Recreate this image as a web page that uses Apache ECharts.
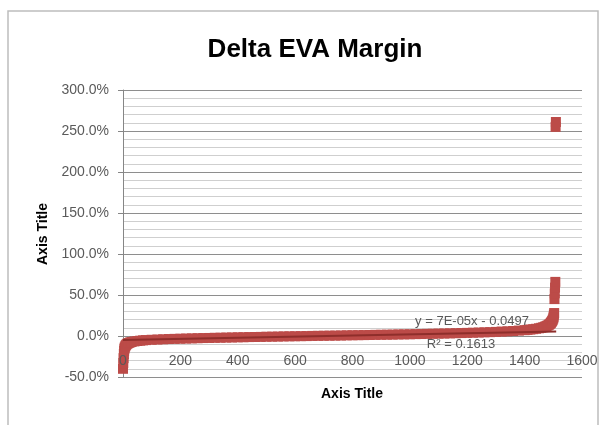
<!DOCTYPE html>
<html>
<head>
<meta charset="utf-8">
<script src="https://cdn.jsdelivr.net/npm/echarts@6/dist/echarts.min.js"></script>
<style>
html,body{margin:0;padding:0;background:#fff;}
#c{width:608px;height:425px;}
</style>
</head>
<body>
<div id="c"></div>
<script>
// ---- data ----
const chartTitle = 'Delta EVA Margin';
const xAxisTitle = 'Axis Title';
const yAxisTitle = 'Axis Title';
const trendEquation = 'y = 7E-05x - 0.0497';
const trendR2 = 'R² = 0.1613';

const pointX = [0,1,2,3,4,5,6,8,10,13,16,20,25,30,40,50,60,70,80,100,120,140,160,180,
  200,220,240,260,280,300,320,340,360,380,400,420,440,460,480,500,520,540,560,580,
  600,620,640,660,680,700,720,740,760,780,800,820,840,860,880,900,920,940,960,980,
  1000,1020,1040,1060,1080,1100,1120,1140,1160,1180,1200,1220,1240,1260,1280,1300,
  1320,1340,1360,1380,1400,1410,1420,1430,1440,1450,1458,1465,1471,1476,1480,1484,
  1487,1490,1492,1494,1496,1498,1500,1501,1502,1503,1504,1505,1506,1507,1508,1509];
const pointY = [-0.40,-0.33,-0.27,-0.22,-0.18,-0.155,-0.14,-0.125,-0.112,-0.10,-0.092,-0.085,-0.078,-0.073,-0.066,-0.061,-0.057,-0.053,-0.050,-0.046,-0.043,-0.040,-0.037,-0.035,
  -0.033,-0.031,-0.029,-0.027,-0.025,-0.024,-0.022,-0.021,-0.019,-0.018,-0.016,-0.015,-0.013,-0.012,-0.011,-0.009,-0.008,-0.007,-0.005,-0.004,
  -0.003,-0.002,-0.001,0.001,0.002,0.003,0.004,0.005,0.006,0.008,0.009,0.010,0.011,0.012,0.014,0.015,0.016,0.017,0.019,0.020,
  0.021,0.023,0.024,0.026,0.027,0.029,0.030,0.032,0.034,0.036,0.038,0.040,0.042,0.045,0.047,0.050,
  0.054,0.057,0.061,0.066,0.071,0.075,0.079,0.083,0.088,0.094,0.100,0.107,0.114,0.121,0.128,0.136,
  0.144,0.153,0.162,0.172,0.184,0.198,0.215,0.235,0.26,0.28,0.45,0.52,0.59,0.66,2.55,2.61];

const trendX = [0, 1510];
const trendY = [-0.0497, 0.0560];

const yTickMin = -0.5, yTickMax = 3.0, yTickStep = 0.5;
const xTickMin = 0, xTickMax = 1600, xTickStep = 200;

// ---- chart ----
const chart = echarts.init(document.getElementById('c'));
const font = 'Liberation Sans';
const pts = pointX.map((x, i) => [x, pointY[i]]);
const trend = trendX.map((x, i) => [x, trendY[i]]);

chart.setOption({
  animation: false,
  backgroundColor: '#ffffff',
  grid: {left: 123, right: 26, top: 90, bottom: 48, containLabel: false},
  xAxis: {
    type: 'value', min: xTickMin, max: xTickMax, interval: xTickStep, z: 6,
    axisLine: {show: false, onZero: true},
    axisTick: {show: false},
    axisLabel: {margin: -23, fontFamily: font, fontSize: 14, color: '#595959',
      showMinLabel: true, showMaxLabel: true, hideOverlap: false,
      formatter: v => String(v)},
    splitLine: {show: false}
  },
  yAxis: {
    type: 'value', min: yTickMin, max: yTickMax, interval: yTickStep,
    axisLine: {show: true, onZero: false, lineStyle: {color: '#868686', width: 1}},
    axisTick: {show: true, length: 5, lineStyle: {color: '#868686'}},
    axisLabel: {margin: 14, fontFamily: font, fontSize: 14, color: '#5a5a5a',
      formatter: v => (v * 100).toFixed(1) + '%'},
    splitLine: {show: true, lineStyle: {color: '#8e8e8e', width: 1}},
    minorTick: {show: false, splitNumber: 5},
    minorSplitLine: {show: true, lineStyle: {color: '#cfcfcf', width: 1}}
  },
  series: [
    {
      type: 'scatter', data: pts, symbol: 'rect', symbolSize: 10,
      itemStyle: {color: '#BC4B48', borderWidth: 0, opacity: 1},
      z: 3
    },
    {
      type: 'line', data: trend, showSymbol: false, symbol: 'none',
      lineStyle: {color: '#8E2E2B', width: 2}, z: 4
    }
  ],
  graphic: [
    {type: 'rect', shape: {x: 8, y: 11, width: 590, height: 430},
      style: {fill: 'none', stroke: '#bdbdbd', lineWidth: 1.5}, silent: true},
    {type: 'text', x: 315, y: 50, style: {text: chartTitle, font: 'bold 26px "Liberation Sans"',
      fill: '#000', textAlign: 'center', textVerticalAlign: 'middle'}},
    {type: 'text', x: 352, y: 394, style: {text: xAxisTitle, font: 'bold 14px "Liberation Sans"',
      fill: '#000', textAlign: 'center', textVerticalAlign: 'middle'}},
    {type: 'text', x: 43, y: 234, rotation: Math.PI / 2, style: {text: yAxisTitle,
      font: 'bold 14px "Liberation Sans"', fill: '#000', textAlign: 'center', textVerticalAlign: 'middle'}},
    {type: 'text', x: 472, y: 321, z: 10, style: {text: trendEquation, font: '13px "Liberation Sans"',
      fill: '#595959', textAlign: 'center', textVerticalAlign: 'middle'}},
    {type: 'text', x: 461, y: 344, z: 10, style: {text: trendR2, font: '13px "Liberation Sans"',
      fill: '#595959', textAlign: 'center', textVerticalAlign: 'middle'}}
  ]
});
</script>
</body>
</html>
